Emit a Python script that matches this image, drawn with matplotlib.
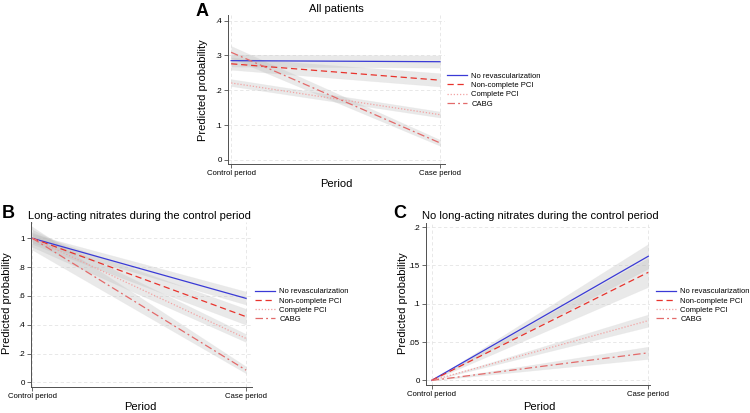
#!/usr/bin/env python

import numpy as np
import matplotlib.pyplot as plt

plt.rcParams['font.family'] = ['Liberation Sans', 'DejaVu Sans']

groups = ["No revascularization", "Non-complete PCI", "Complete PCI", "CABG"]
periods = ["Control period", "Case period"]

# panel A: all patients
a_est = [[0.285, 0.282], [0.276, 0.229], [0.221, 0.130], [0.309, 0.049]]
a_lo = [[0.268, 0.265], [0.259, 0.211], [0.212, 0.122], [0.292, 0.041]]
a_hi = [[0.302, 0.300], [0.294, 0.249], [0.232, 0.139], [0.327, 0.058]]

# panel B: long-acting nitrates during the control period
b_est = [[1.0, 0.583], [1.0, 0.456], [1.0, 0.305], [1.0, 0.085]]
b_lo = [[0.97, 0.540], [0.96, 0.400], [0.94, 0.280], [0.92, 0.063]]
b_hi = [[1.03, 0.630], [1.04, 0.510], [1.06, 0.335], [1.08, 0.110]]

# panel C: no long-acting nitrates during the control period
c_est = [[0.0, 0.162], [0.0, 0.141], [0.0, 0.078], [0.0, 0.036]]
c_lo = [[0.0, 0.146], [0.0, 0.122], [0.0, 0.070], [0.0, 0.028]]
c_hi = [[0.0, 0.178], [0.0, 0.160], [0.0, 0.086], [0.0, 0.044]]

a_ticks = [0, 0.1, 0.2, 0.3, 0.4]
a_tick_labels = ["0", ".1", ".2", ".3", ".4"]
b_ticks = [0, 0.2, 0.4, 0.6, 0.8, 1.0]
b_tick_labels = ["0", ".2", ".4", ".6", ".8", "1"]
c_ticks = [0, 0.05, 0.1, 0.15, 0.2]
c_tick_labels = ["0", ".05", ".1", ".15", ".2"]

colors = ["#3a3ad6", "#e8332c", "#f2a3a3", "#e36a6a"]
styles = ["-", (0, (5, 3)), (0, (1, 1.5)), (0, (6, 2.5, 1.5, 2.5))]

W, H = 750, 413


def px_box(left, top, right, bottom):
    return [left / W, 1 - bottom / H, (right - left) / W, (bottom - top) / H]


def draw_panel(ax, est, lo, hi, ticks, tick_labels, xlim, ylim):
    x = np.arange(len(periods))
    for i in range(len(groups)):
        ax.fill_between(x, lo[i], hi[i], color="#b8b8b8", alpha=0.3, lw=0.4,
                        edgecolor="#dcdcdc", zorder=1)
    for i in range(len(groups)):
        ax.plot(x, est[i], color=colors[i], linestyle=styles[i], lw=0.9,
                label=groups[i], zorder=3)
    ax.set_xlim(xlim)
    ax.set_ylim(ylim)
    ax.set_xticks(x)
    ax.set_xticklabels(periods, fontsize=5.6)
    ax.set_yticks(ticks)
    ax.set_yticklabels(tick_labels, fontsize=5.8)
    for t in ticks:
        ax.axhline(t, color="#e4e4e4", lw=0.6, ls=(0, (4, 3)), zorder=0)
    for xi in x:
        ax.axvline(xi, color="#e4e4e4", lw=0.6, ls=(0, (4, 3)), zorder=0)
    ax.spines['top'].set_visible(False)
    ax.spines['right'].set_visible(False)
    for s in ['left', 'bottom']:
        ax.spines[s].set_color("#505050")
        ax.spines[s].set_linewidth(0.7)
    ax.tick_params(length=3, width=0.6, color="#505050", pad=1.5)
    ax.set_facecolor("white")


fig = plt.figure(figsize=(7.5, 4.13), dpi=100)

ax_a = fig.add_axes(px_box(228, 15, 445, 164))
draw_panel(ax_a, a_est, a_lo, a_hi, a_ticks, a_tick_labels, (-0.015, 1.024), (-0.0115, 0.416))
ax_b = fig.add_axes(px_box(31, 221.7, 252, 386.7))
draw_panel(ax_b, b_est, b_lo, b_hi, b_ticks, b_tick_labels, (-0.006, 1.028), (-0.03, 1.115))
ax_c = fig.add_axes(px_box(426, 223.3, 650, 384.7))
draw_panel(ax_c, c_est, c_lo, c_hi, c_ticks, c_tick_labels, (-0.026, 1.008), (-0.0056, 0.205))


def ftext(x, y, s, **kw):
    fig.text(x / W, 1 - y / H, s, **kw)


# titles, panel letters and axis labels
ftext(336, 9, "All patients", fontsize=8, ha="center", va="center")
ftext(139, 216, "Long-acting nitrates during the control period", fontsize=8, ha="center", va="center")
ftext(540, 216, "No long-acting nitrates during the control period", fontsize=8, ha="center", va="center")
ftext(202, 12, "A", fontsize=13, fontweight="bold", ha="center", va="center")
ftext(8, 213, "B", fontsize=13, fontweight="bold", ha="center", va="center")
ftext(400, 213, "C", fontsize=13, fontweight="bold", ha="center", va="center")
for x, y in [(203, 90), (7, 303), (403, 303)]:
    ftext(x, y, "Predicted probability", fontsize=8, rotation=90, ha="center", va="center")
for x, y in [(336, 184), (140, 407), (539, 407)]:
    ftext(x, y, "Period", fontsize=8, ha="center", va="center")

for ax, lx, ly in [(ax_a, 447, 90), (ax_b, 255, 305.5), (ax_c, 656, 305.5)]:
    ax.legend(loc="center left", bbox_to_anchor=(lx / W, 1 - ly / H),
              bbox_transform=fig.transFigure, frameon=False, fontsize=5.5,
              handlelength=2.6, handletextpad=0.6, labelspacing=0.25,
              borderpad=0, borderaxespad=0)

fig.savefig("out.png", dpi=100, facecolor="white")
